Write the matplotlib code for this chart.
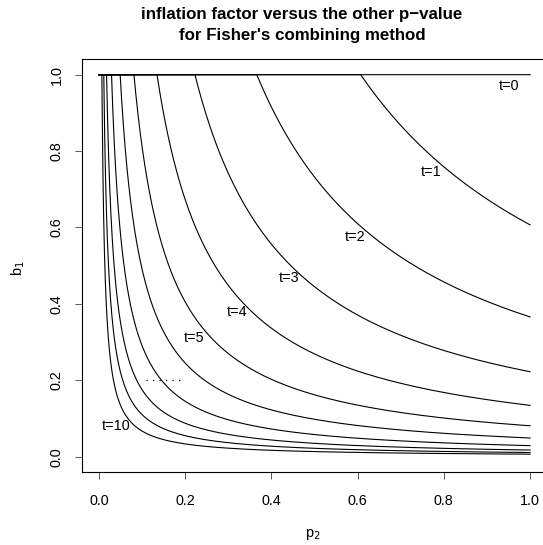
import numpy as np
import matplotlib
matplotlib.use("Agg")
import matplotlib.pyplot as plt

plt.rcParams['font.family'] = ['Liberation Sans', 'DejaVu Sans']

# t values and the p2 knee where each curve leaves b1 = 1
t_vals = [0, 1, 2, 3, 4, 5, 6, 7, 8, 9, 10]
knees = [1.0, 0.607, 0.366, 0.2225, 0.1345, 0.081, 0.049, 0.029, 0.0175, 0.011, 0.0067]

# curve labels: (text, x, y)
lab_text = ["t=0", "t=1", "t=2", "t=3", "t=4", "t=5", "t=10"]
lab_x = [0.95, 0.77, 0.595, 0.44, 0.32, 0.22, 0.04]
lab_y = [0.97, 0.745, 0.575, 0.467, 0.38, 0.312, 0.08]

# dotted ellipsis between t=5 and t=10
dots_x = [0.11, 0.19]
dots_y = [0.2, 0.2]

fs = 10.4

fig = plt.figure(figsize=(5.43, 5.45), dpi=100)
ax = fig.add_axes([81.8 / 543, 1 - 472 / 545, (547.3 - 81.8) / 543, (472 - 59.4) / 545])

p2 = np.linspace(0, 1, 2001)
for t, c in zip(t_vals, knees):
    with np.errstate(divide='ignore'):
        b1 = np.minimum(1.0, c / p2)
    ax.plot(p2, b1, color='black', lw=0.8)

for s, x, y in zip(lab_text, lab_x, lab_y):
    ax.text(x, y, s, fontsize=fs, ha='center', va='center')

ax.plot(dots_x, dots_y, color='black', lw=0.9, dashes=(1, 4.2))

ax.set_xlim(-0.04, 1.04)
ax.set_ylim(-0.04, 1.04)
ax.set_xticks([0, 0.2, 0.4, 0.6, 0.8, 1.0])
ax.set_yticks([0, 0.2, 0.4, 0.6, 0.8, 1.0])
ax.set_xticklabels(["0.0", "0.2", "0.4", "0.6", "0.8", "1.0"])
ax.set_yticklabels(["0.0", "0.2", "0.4", "0.6", "0.8", "1.0"], rotation=90, va='center')
ax.tick_params(length=5, width=0.7, labelsize=fs, color='#555555')
ax.tick_params(axis='x', pad=11)
ax.tick_params(axis='y', pad=8)
for sp in ax.spines.values():
    sp.set_linewidth(0.8)

fig.text(302 / 543, 1 - 15 / 545, "inflation factor versus the other p\u2212value",
         ha='center', va='center', fontsize=12.2, fontweight='bold')
fig.text(302 / 543, 1 - 35 / 545, "for Fisher's combining method",
         ha='center', va='center', fontsize=12.2, fontweight='bold')
fig.text(313 / 543, 1 - 535 / 545, "p$_2$", ha='center', va='center', fontsize=fs)
fig.text(18 / 543, 1 - 268 / 545, "b$_1$", ha='center', va='center', fontsize=fs, rotation=90)

fig.savefig("out.png", dpi=100)
